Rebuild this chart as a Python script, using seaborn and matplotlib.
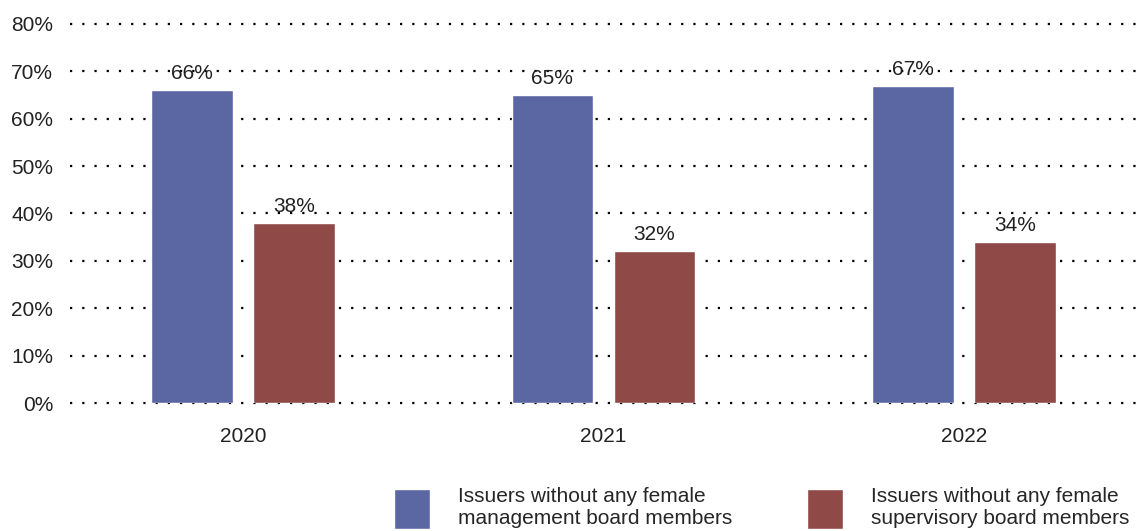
import matplotlib
matplotlib.use("Agg")
import matplotlib.pyplot as plt
import matplotlib.ticker as mticker
from matplotlib.patches import Patch
import pandas as pd
import seaborn as sns

years = ["2020", "2021", "2022"]
series_names = [
    "Issuers without any female\nmanagement board members",
    "Issuers without any female\nsupervisory board members",
]
management = [66, 65, 67]
supervisory = [38, 32, 34]
colors = ["#5B67A3", "#8F4A48"]

df = pd.DataFrame({
    "year": years * 2,
    "share": management + supervisory,
    "series": [series_names[0]] * 3 + [series_names[1]] * 3,
})

sns.set_style("white")
plt.rcParams["font.family"] = ["Liberation Sans", "DejaVu Sans"]

fig = plt.figure(figsize=(11.44, 5.31), dpi=100)
ax = fig.add_axes([0.0612, 0.241, 0.9388, 0.714])

sns.barplot(data=df, x="year", y="share", hue="series", palette=colors,
            width=0.566, gap=0.2, legend=False, ax=ax, saturation=1)

for c in ax.containers:
    ax.bar_label(c, fmt="%d%%", padding=5, fontsize=15, color="#222222")

ax.set_ylim(0, 80)
ax.set_xlim(-0.48, 2.5)
ax.yaxis.set_major_locator(mticker.MultipleLocator(10))
ax.yaxis.set_major_formatter(mticker.FuncFormatter(lambda v, p: f"{v:.0f}%"))
ax.grid(axis="y", color="black", linewidth=1.6, linestyle=(0, (1, 4.5)))
for gl in ax.get_ygridlines():
    gl.set_clip_on(False)
ax.set_axisbelow(True)
for s in ax.spines.values():
    s.set_visible(False)
ax.tick_params(axis="y", length=0, pad=12, labelsize=15, labelcolor="#222222")
ax.tick_params(axis="x", length=0, pad=17, labelsize=15, labelcolor="#222222")
ax.set_xlabel("")
ax.set_ylabel("")

handles = [Patch(facecolor=colors[0]), Patch(facecolor=colors[1])]
leg = fig.legend(handles, series_names, loc="lower left", bbox_to_anchor=(0.343, 0.0),
                 ncol=2, frameon=False, fontsize=15, handlelength=1.7, handleheight=2.6,
                 handletextpad=1.35, columnspacing=3.6, borderpad=0.1, borderaxespad=0,
                 labelspacing=0.2)
plt.setp(leg.get_texts(), linespacing=1.15)

fig.savefig("out.png", dpi=100)
